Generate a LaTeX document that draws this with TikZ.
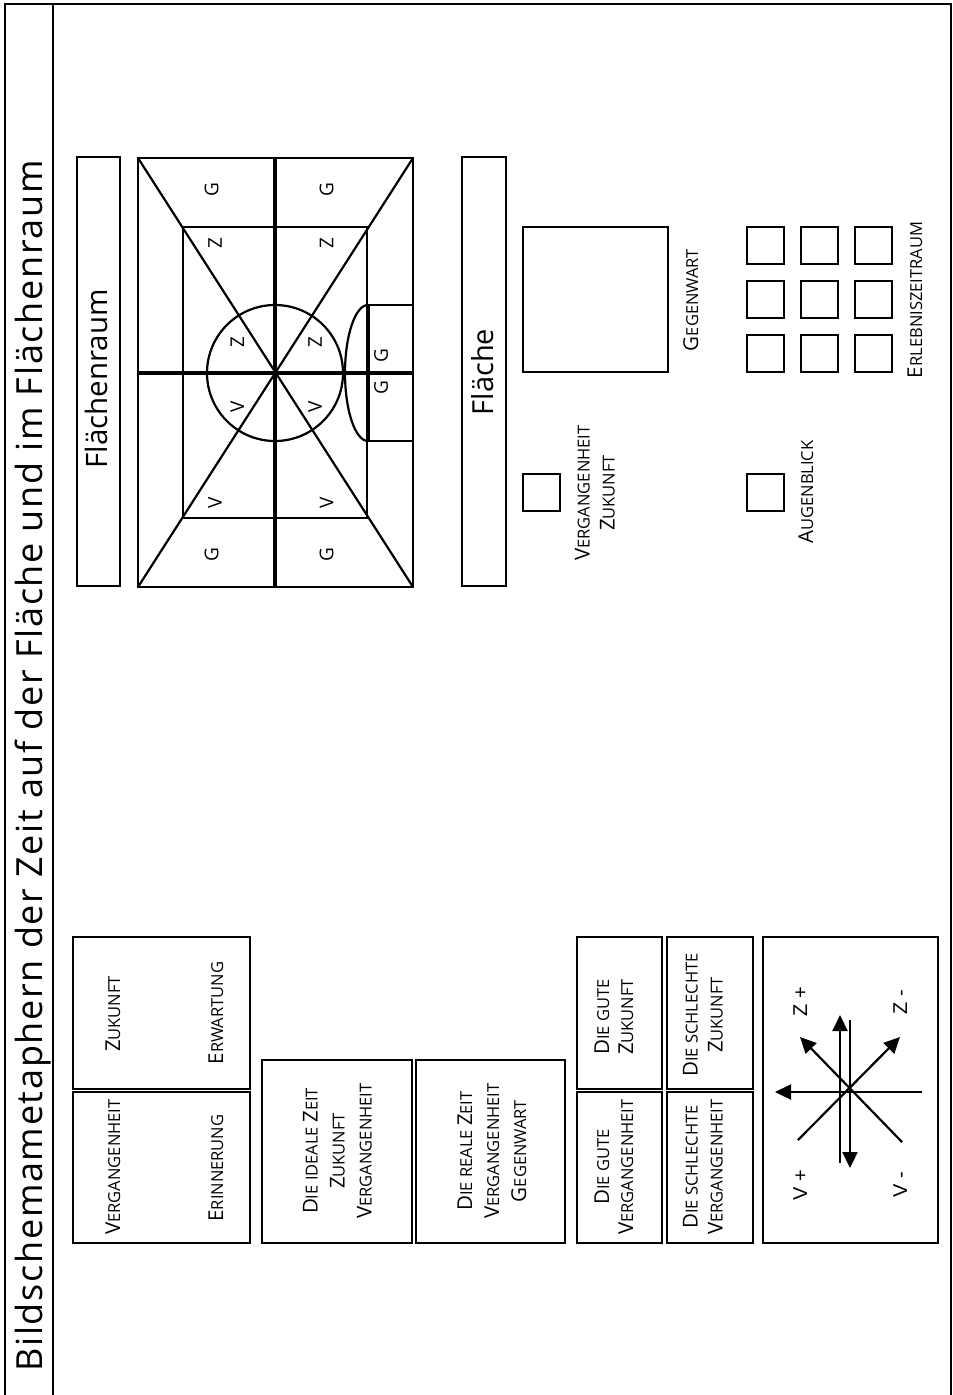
\documentclass[tikz,border=0pt]{standalone}
\usepackage{fontspec}
\setmainfont{Open Sans}
\newfontfamily\arialf{Liberation Sans}
\newfontfamily\titlefont[LetterSpace=4.7]{Open Sans}
\usetikzlibrary{arrows.meta}
\newcommand\kap[2]{{\fontsize{20.5}{25}\selectfont #1}#2}
\tikzset{
  ln/.style={line width=2.2pt},
  thk/.style={line width=4.5pt},
  boxline/.style={draw, line width=2.2pt},
  sc/.style={rotate=90, font=\fontsize{16.5}{25}\selectfont, align=center, inner sep=0pt},
  scb/.style={sc, anchor=base},
  letter/.style={rotate=90, font=\fontsize{19}{22}\selectfont, inner sep=0pt},
  albl/.style={rotate=90, anchor=base, font=\arialf\fontsize{20}{22}\selectfont, inner sep=0pt},
  arr/.style={line width=2.2pt, -{Triangle[length=16pt,width=15pt]}},
}
\begin{document}
\begin{tikzpicture}[x=1pt,y=-1pt]
\useasboundingbox (0,0) rectangle (953,1395);
% frame
\draw[ln] (5,1395) -- (5,4) -- (951,4) -- (951,1395);
\draw[ln] (53,4) -- (53,1395);
\node[rotate=90, anchor=base, font=\titlefont\fontsize{36}{40}\selectfont, inner sep=0pt] (title) at (42,766) {Bildschemametaphern der Zeit auf der Fläche und im Flächenraum};

% Flaechenraum label
\draw[boxline] (77,157) rectangle (120,586);
\node[rotate=90, anchor=base, font=\fontsize{29.5}{34}\selectfont, inner sep=0pt] (fr) at (107,379) {Flächenraum};

% big diagram
\draw[ln] (138,158) rectangle (413,587);
\draw[ln] (183,227) rectangle (367,518);
\draw[ln] (138,158) -- (413,587);
\draw[ln] (413,158) -- (138,587);
\draw[ln] (275,373) circle[radius=68];
\draw[ln] (367,305) -- (413,305);
\draw[ln] (367,441) -- (413,441);
\draw[ln] (368,305) arc[start angle=-90, end angle=-270, x radius=23, y radius=68];
\draw[line width=4pt] (368,305) -- (368,441);
\draw[line width=3.5pt] (275,158) -- (275,587);
\draw[thk] (138,373) -- (413,373);
\node[letter] (g1) at (211.7,190) {G};
\node[letter] (g2) at (326.7,190) {G};
\node[letter] (g3) at (211.7,555) {G};
\node[letter] (g4) at (326.7,555) {G};
\node[letter] (z1) at (215,243.3) {Z};
\node[letter] (z2) at (326.7,243.3) {Z};
\node[letter] (z3) at (237.3,341.7) {Z};
\node[letter] (z4) at (315,341.7) {Z};
\node[letter] (v1) at (237.3,406.7) {V};
\node[letter] (v2) at (315,406.7) {V};
\node[letter] (v3) at (215,503.3) {V};
\node[letter] (v4) at (326.7,503.3) {V};
\node[letter] (g5) at (381,356) {G};
\node[letter] (g6) at (381,388) {G};

% Flaeche label
\draw[boxline] (462,157) rectangle (506,586);
\node[rotate=90, anchor=base, font=\fontsize{29}{34}\selectfont, inner sep=0pt] (fl) at (493,372) {Fläche};

% squares
\draw[ln] (523,227) rectangle (668,372);
\node[scb] (gegenwart) at (698,300) {\kap{G}{EGENWART}};
\foreach \xa/\xb in {747/784, 801/838, 855/892}{
  \foreach \ya/\yb in {227/264, 281/318, 335/372}{
    \draw[ln] (\xa,\ya) rectangle (\xb,\yb);
  }
}
\node[scb] (erlebnis) at (922,300) {\kap{E}{RLEBNISZEITRAUM}};
\draw[ln] (523,474) rectangle (560,511);
\node[sc] (vz) at (595,493) {\kap{V}{ERGANGENHEIT}\\\kap{Z}{UKUNFT}};
\draw[ln] (747,474) rectangle (784,511);
\node[scb] (augenblick) at (813,492) {\kap{A}{UGENBLICK}};

% bottom boxes
\draw[boxline] (73,937) rectangle (250,1089);
\draw[boxline] (73,1092) rectangle (250,1243);
\node[scb] (zuk) at (120,1014) {\kap{Z}{UKUNFT}};
\node[scb] (erw) at (223,1013) {\kap{E}{RWARTUNG}};
\node[scb] (verg) at (120,1167) {\kap{V}{ERGANGENHEIT}};
\node[scb] (erin) at (223,1168) {\kap{E}{RINNERUNG}};

\draw[boxline] (262,1060) rectangle (412,1243);
\draw[boxline] (416,1060) rectangle (565,1243);
\node[sc, font=\fontsize{16.5}{27}\selectfont] (ideal) at (337.5,1151) {\kap{D}{IE IDEALE} \kap{Z}{EIT}\\\kap{Z}{UKUNFT}\\\kap{V}{ERGANGENHEIT}};
\node[sc, font=\fontsize{16.5}{27}\selectfont] (real) at (492,1151) {\kap{D}{IE REALE} \kap{Z}{EIT}\\\kap{V}{ERGANGENHEIT}\\\kap{G}{EGENWART}};

\draw[boxline] (577,937) rectangle (662,1089);
\draw[boxline] (577,1092) rectangle (662,1243);
\draw[boxline] (667,937) rectangle (753,1089);
\draw[boxline] (667,1092) rectangle (753,1243);
\node[sc, font=\fontsize{16.5}{24}\selectfont] (gz) at (614,1017) {\kap{D}{IE GUTE}\\\kap{Z}{UKUNFT}};
\node[sc, font=\fontsize{16.5}{24}\selectfont] (gv) at (614,1167) {\kap{D}{IE GUTE}\\\kap{V}{ERGANGENHEIT}};
\node[sc] (sz) at (703,1015) {\kap{D}{IE SCHLECHTE}\\\kap{Z}{UKUNFT}};
\node[sc] (sv) at (703,1167) {\kap{D}{IE SCHLECHTE}\\\kap{V}{ERGANGENHEIT}};

% arrow panel
\draw[boxline] (763,937) rectangle (938,1243);
\coordinate (hR) at (922,1092);
\coordinate (hL) at (775,1092);
\coordinate (v1b) at (840,1163);
\coordinate (v1t) at (840,1015);
\coordinate (v2t) at (850,1020);
\coordinate (v2b) at (850,1168);
\coordinate (d1a) at (902,1142);
\coordinate (d1b) at (800,1037);
\coordinate (d2a) at (798,1140);
\coordinate (d2b) at (900,1037);
\draw[arr] (hR) -- (hL);
\draw[arr] (v1b) -- (v1t);
\draw[arr] (v2t) -- (v2b);
\draw[arr] (d1a) -- (d1b);
\draw[arr] (d2a) -- (d2b);
\node[albl] (zp) at (807,1002) {Z +};
\node[albl] (zm) at (907,1002) {Z -};
\node[albl] (vp) at (807,1185) {V +};
\node[albl] (vm) at (907,1185) {V -};
\end{tikzpicture}
\end{document}
